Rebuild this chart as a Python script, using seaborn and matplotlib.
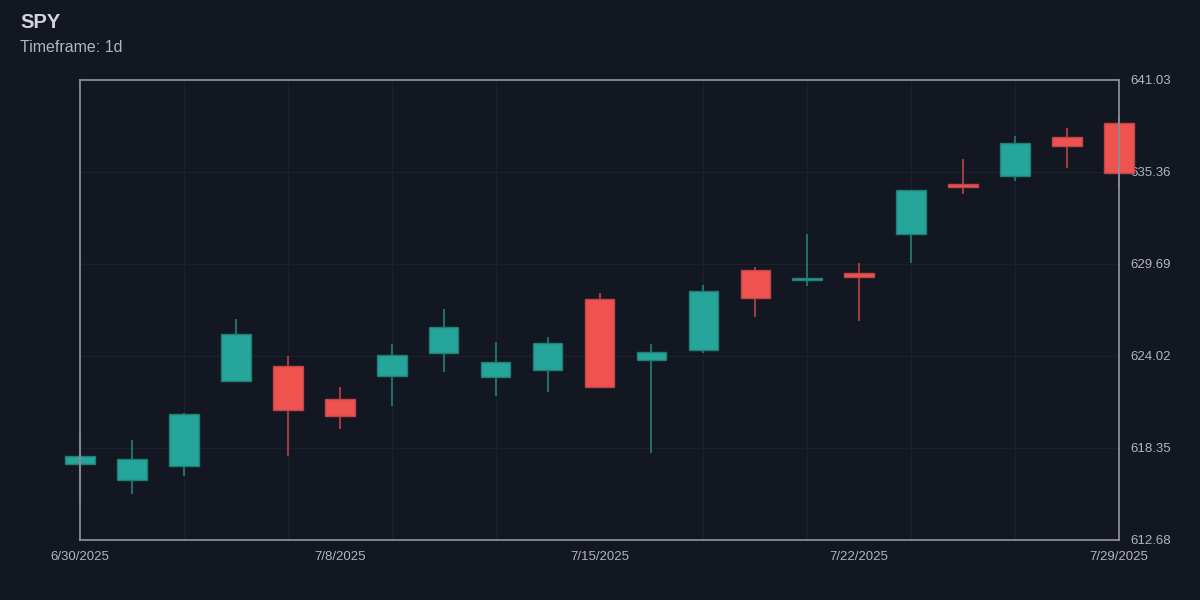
import numpy as np
import pandas as pd
import matplotlib
matplotlib.use("Agg")
import matplotlib.pyplot as plt
import seaborn as sns

dates = ["2025-06-30", "2025-07-01", "2025-07-02", "2025-07-03", "2025-07-07",
         "2025-07-08", "2025-07-09", "2025-07-10", "2025-07-11", "2025-07-14",
         "2025-07-15", "2025-07-16", "2025-07-17", "2025-07-18", "2025-07-21",
         "2025-07-22", "2025-07-23", "2025-07-24", "2025-07-25", "2025-07-28",
         "2025-07-29"]
opens = [617.38, 616.36, 617.26, 622.46, 623.39, 621.37, 622.79, 624.22, 622.74, 623.18,
         627.53, 623.76, 624.41, 629.32, 628.70, 629.12, 631.56, 634.62, 635.09, 637.50,
         638.36]
closes = [617.86, 617.65, 620.45, 625.36, 620.69, 620.34, 624.06, 625.83, 623.63, 624.82,
          622.13, 624.25, 628.04, 627.58, 628.83, 628.87, 634.23, 634.42, 637.13, 636.94,
          635.28]
highs = [619.21, 618.84, 620.51, 626.30, 624.02, 622.11, 624.74, 626.90, 624.88, 625.19,
         627.88, 624.76, 628.40, 629.49, 631.54, 629.75, 634.23, 636.16, 637.60, 638.05,
         638.67]
lows = [615.04, 615.53, 616.62, 622.40, 617.88, 619.54, 620.92, 623.02, 621.54, 621.82,
        622.07, 618.06, 624.19, 626.44, 628.35, 626.20, 629.73, 633.99, 634.81, 635.59,
        634.36]
y_ticks = [612.68, 618.35, 624.02, 629.69, 635.36, 641.03]
x_label_every = 5

df = pd.DataFrame({"date": pd.to_datetime(dates), "open": opens,
                   "high": highs, "low": lows, "close": closes})
df["x"] = np.arange(len(df))

bg = "#131722"
up = "#26a69a"
down = "#ef5350"

sns.set_theme(style="dark", rc={
    "figure.facecolor": bg, "axes.facecolor": bg,
    "axes.edgecolor": "#8a8d96", "axes.linewidth": 1.3,
    "grid.color": "#1c202b", "grid.linewidth": 1.0,
    "text.color": "#d1d4dc", "xtick.color": "#b2b5be", "ytick.color": "#b2b5be",
})
plt.rcParams["font.family"] = ["Liberation Sans", "DejaVu Sans"]

fig = plt.figure(figsize=(12, 6), dpi=100)
ax = fig.add_axes([80 / 1200, 60 / 600, 1039 / 1200, 460 / 600])

is_up = df["close"] >= df["open"]
colors = np.where(is_up, up, down)
wick_colors = np.where(is_up, "#1f6e68", "#9a3c40")
edge_colors = np.where(is_up, "#1f7e76", "#c0454a")

# wicks first, bodies on top; candles at the ends hang over the frame
ax.vlines(df["x"], df["low"], df["high"], colors=wick_colors, linewidth=1.5,
          zorder=2, clip_on=False)
body_bottom = np.minimum(df["open"], df["close"])
body_height = np.maximum(np.abs(df["close"] - df["open"]), 0.12)
ax.bar(df["x"], body_height, bottom=body_bottom, width=0.57, color=colors,
       edgecolor=edge_colors, linewidth=1.0, zorder=3, clip_on=False)

ax.set_xlim(df["x"].iloc[0], df["x"].iloc[-1])
ax.set_ylim(y_ticks[0], y_ticks[-1])

ax.set_xticks(df["x"][::x_label_every])
ax.set_xticklabels([f"{d.month}/{d.day}/{d.year}" for d in df["date"][::x_label_every]])
ax.set_xticks(df["x"][::2], minor=True)
ax.grid(False)
ax.grid(True, which="minor", axis="x")
ax.set_yticks(y_ticks)
ax.set_yticklabels([f"{v:.2f}" for v in y_ticks])
ax.grid(True, which="major", axis="y")
ax.yaxis.tick_right()
ax.tick_params(axis="both", which="both", length=0, labelsize=9.5)
ax.tick_params(axis="x", pad=8)
ax.tick_params(axis="y", pad=8)
for s in ax.spines.values():
    s.set_visible(True)
    s.set_zorder(4)

fig.text(20 / 1200, 1 - 22 / 600, "SPY", fontsize=14.5, fontweight="bold",
         color="#d1d4dc", va="center", ha="left")
fig.text(20 / 1200, 1 - 48 / 600, "Timeframe: 1d", fontsize=11.5,
         color="#b2b5be", va="center", ha="left")

fig.savefig("out.png", dpi=100, facecolor=bg)
